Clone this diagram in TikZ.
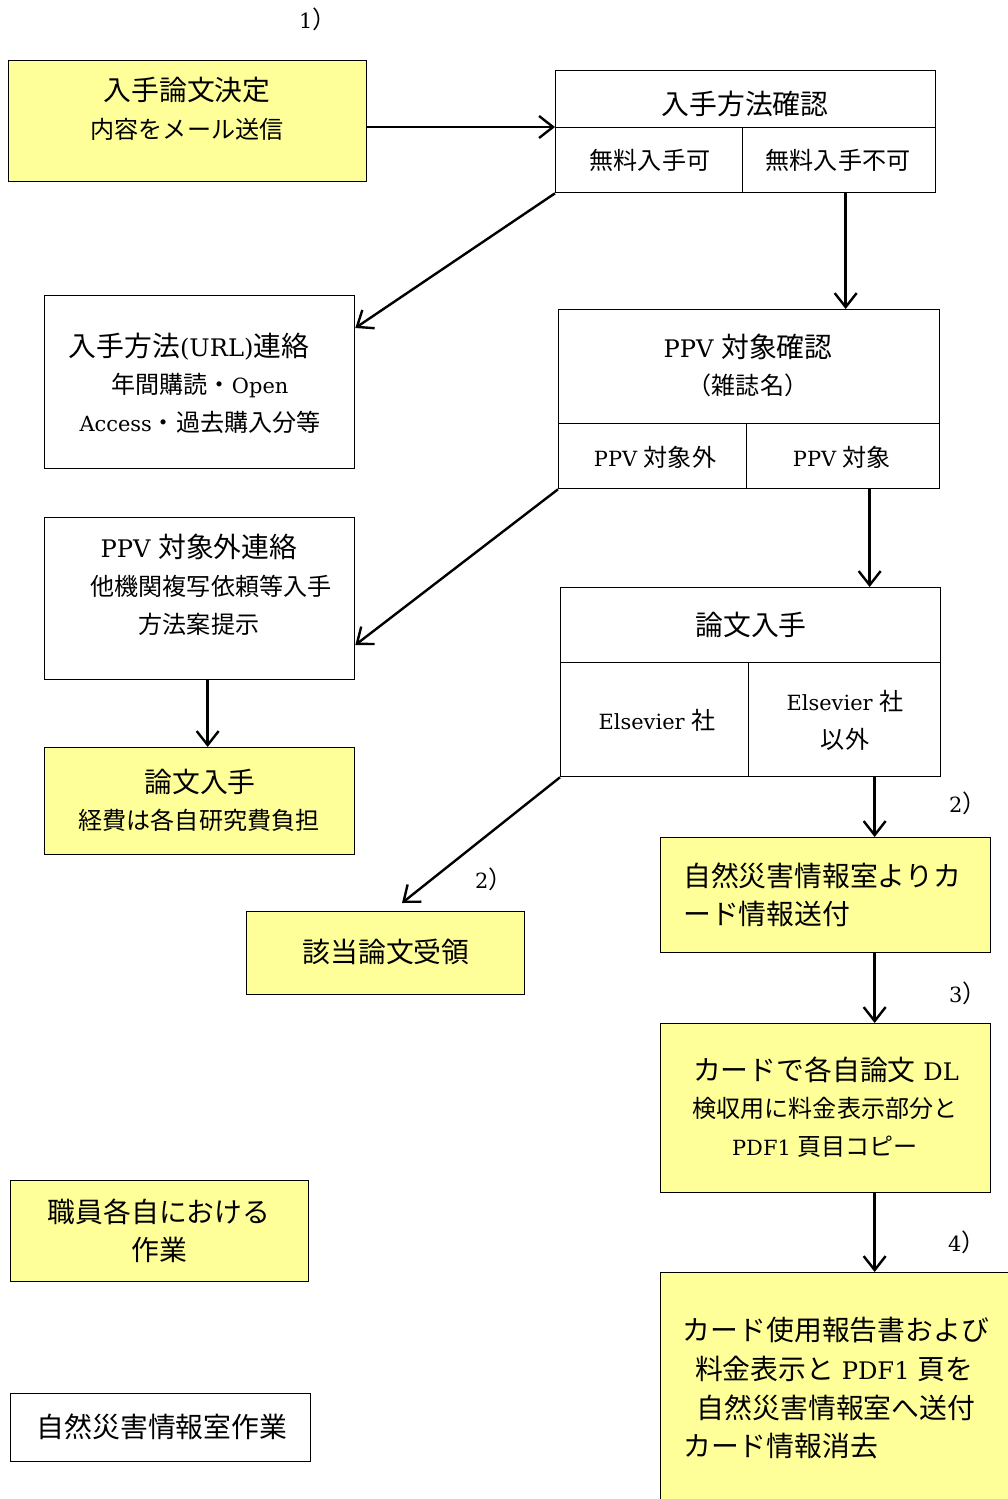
\documentclass[tikz,border=0pt]{standalone}
\usepackage{fontspec}
\setmainfont{DejaVu Serif}[Scale=0.93]
\newfontfamily\jp[Scale=1.07]{Noto Sans CJK JP}
\usetikzlibrary{arrows.meta,calc}
\newcommand\Bg{\fontsize{26}{31}\selectfont}
\newcommand\Sm{\fontsize{22.5}{27}\selectfont}
\definecolor{boxyellow}{RGB}{255,255,153}
\begin{document}
\begin{tikzpicture}[x=1pt,y=-1pt,
 bx/.style={draw=black, line width=1.3pt, rectangle, inner sep=0pt, anchor=north west, fill=white},
 ybx/.style={bx, fill=boxyellow},
 tb/.style={inner sep=0pt, anchor=base, font=\Bg},
 ts/.style={inner sep=0pt, anchor=base, font=\Sm},
 tbl/.style={inner sep=0pt, anchor=base west, font=\Bg},
 lbl/.style={inner sep=0pt, anchor=base west, font=\Sm},
 arr/.style={line width=2.4pt, -{Straight Barb[length=14pt,width=22pt,line width=2.4pt]}},
]
\useasboundingbox (0,0) rectangle (1007,1499);

% boxes
\node[ybx, minimum width=358pt, minimum height=121pt] (A) at (8,60) {};
\node[bx, minimum width=380pt, minimum height=57pt] (B1) at (555,70) {};
\node[bx, minimum width=187pt, minimum height=65pt] (B2) at (555,127) {};
\node[bx, minimum width=193pt, minimum height=65pt] (B3) at (742,127) {};
\node[bx, minimum width=310pt, minimum height=173pt] (C) at (44,295) {};
\node[bx, minimum width=381pt, minimum height=114pt] (D1) at (558,309) {};
\node[bx, minimum width=188pt, minimum height=65pt] (D2) at (558,423) {};
\node[bx, minimum width=193pt, minimum height=65pt] (D3) at (746,423) {};
\node[bx, minimum width=310pt, minimum height=162pt] (E) at (44,517) {};
\node[ybx, minimum width=310pt, minimum height=107pt] (F) at (44,747) {};
\node[bx, minimum width=380pt, minimum height=75pt] (G1) at (560,587) {};
\node[bx, minimum width=188pt, minimum height=114pt] (G2) at (560,662) {};
\node[bx, minimum width=192pt, minimum height=114pt] (G3) at (748,662) {};
\node[ybx, minimum width=278pt, minimum height=83pt] (H) at (246,911) {};
\node[ybx, minimum width=330pt, minimum height=115pt] (I) at (660,837) {};
\node[ybx, minimum width=330pt, minimum height=169pt] (J) at (660,1023) {};
\node[ybx, minimum width=360pt, minimum height=240pt] (K) at (660,1272) {};
\node[ybx, minimum width=298pt, minimum height=101pt] (L) at (10,1180) {};
\node[bx, minimum width=300pt, minimum height=68pt] (M) at (10,1393) {};

% texts
\node[tb] (tA1) at (187,100) {{\jp 入手論文決定}};
\node[ts] (tA2) at (187,138) {{\jp 内容をメール送信}};
\node[tb] (tB1) at (745,114) {{\jp 入手方法確認}};
\node[ts] (tB2) at (650,169) {{\jp 無料入手可}};
\node[ts] (tB3) at (838,169) {{\jp 無料入手不可}};
\node[tb] (tC1) at (189,356) {{\jp 入手方法}(URL){\jp 連絡}};
\node[ts] (tC2) at (200,393) {{\jp 年間購読・}Open};
\node[ts] (tC3) at (200,431) {Access{\jp ・過去購入分等}};
\node[tb] (tD1) at (748,357) {PPV {\jp 対象確認}};
\node[ts] (tD2) at (748,394) {{\jp （雑誌名）}};
\node[ts] (tD3) at (655,466) {PPV {\jp 対象外}};
\node[ts] (tD4) at (842,466) {PPV {\jp 対象}};
\node[tb] (tE1) at (199,557) {PPV {\jp 対象外連絡}};
\node[ts] (tE2) at (211,595) {{\jp 他機関複写依頼等入手}};
\node[ts] (tE3) at (199,633) {{\jp 方法案提示}};
\node[tb] (tF1) at (200,792) {{\jp 論文入手}};
\node[ts] (tF2) at (199,829) {{\jp 経費は各自研究費負担}};
\node[tb] (tG1) at (751,635) {{\jp 論文入手}};
\node[ts] (tG2) at (657,729) {Elsevier {\jp 社}};
\node[ts] (tG3) at (845,710) {Elsevier {\jp 社}};
\node[ts] (tG4) at (845,748) {{\jp 以外}};
\node[tb] (tH1) at (386,962) {{\jp 該当論文受領}};
\node[tbl] (tI1) at (683,886) {{\jp 自然災害情報室よりカ}};
\node[tbl] (tI2) at (683,924) {{\jp ード情報送付}};
\node[tb] (tJ1) at (826,1080) {{\jp カードで各自論文} DL};
\node[ts] (tJ2) at (825,1117) {{\jp 検収用に料金表示部分と}};
\node[ts] (tJ3) at (825,1155) {PDF1 {\jp 頁目コピー}};
\node[tb] (tK1) at (836,1340) {{\jp カード使用報告書および}};
\node[tb] (tK2) at (834,1379) {{\jp 料金表示と} PDF1 {\jp 頁を}};
\node[tb] (tK3) at (836,1418) {{\jp 自然災害情報室へ送付}};
\node[tbl] (tK4) at (683,1456) {{\jp カード情報消去}};
\node[tb] (tL1) at (159,1222) {{\jp 職員各自における}};
\node[tb] (tL2) at (159,1260) {{\jp 作業}};
\node[tb] (tM1) at (162,1437) {{\jp 自然災害情報室作業}};

% step labels
\node[lbl] (n1) at (299,28) {1{\jp ）}};
\node[lbl] (n2a) at (475,888) {2{\jp ）}};
\node[lbl] (n2b) at (949,812) {2{\jp ）}};
\node[lbl] (n3) at (949,1002) {3{\jp ）}};
\node[lbl] (n4) at (948,1251) {4{\jp ）}};

% connectors
\draw[arr] (A.east |- B2.north west) -- (B2.north west);
\draw[arr] (B2.south west) -- ([yshift=-33pt]C.north east);
\draw[arr] ([xshift=6.5pt]B3.south) -- ([xshift=6.5pt]B3.south |- D1.north);
\draw[arr] (D2.south west) -- ([yshift=-128pt]E.north east);
\draw[arr] ([xshift=26.5pt]D3.south) -- ([xshift=26.5pt]D3.south |- G1.north);
\draw[arr] ([xshift=8pt]E.south) -- ([xshift=8pt]E.south |- F.north);
\draw[arr] (G2.south west) -- ([xshift=156pt,yshift=8pt]H.north west);
\draw[arr] ([xshift=30pt]G3.south) -- ([xshift=30pt]G3.south |- I.north);
\draw[arr] ([xshift=49pt]I.south) -- ([xshift=49pt]I.south |- J.north);
\draw[arr] ([xshift=49pt]J.south) -- ([xshift=49pt]J.south |- K.north);
\end{tikzpicture}
\end{document}
